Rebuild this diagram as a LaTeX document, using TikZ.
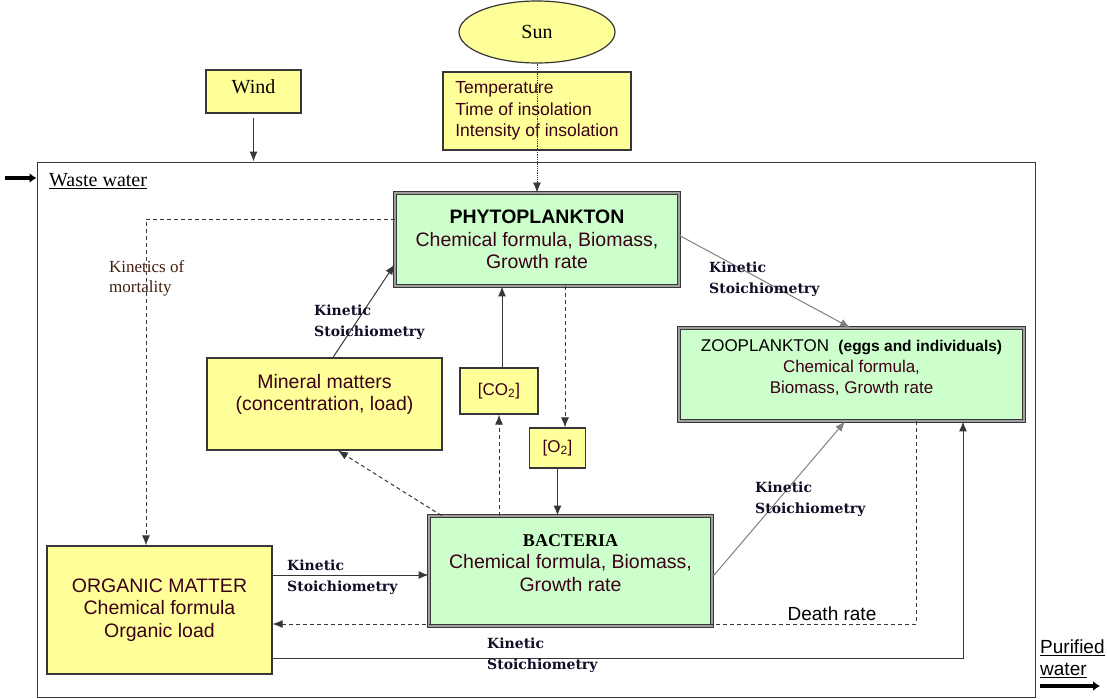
\documentclass[tikz,border=0pt]{standalone}
\usepackage{fontspec}
\setmainfont{Liberation Serif}
\setsansfont{Liberation Sans}
\newfontfamily\kinfont{DejaVu Serif}
\usepackage{tikz}
\usetikzlibrary{arrows.meta}
\usetikzlibrary{shapes.geometric}
\definecolor{yel}{RGB}{255,255,153}
\definecolor{grn}{RGB}{204,255,204}
\definecolor{edge}{RGB}{55,55,55}
\definecolor{txt}{RGB}{60,0,25}
\definecolor{kintxt}{RGB}{15,15,40}
\definecolor{morttxt}{RGB}{65,30,15}
\newcommand{\fs}[2]{\fontsize{#1}{#2}\selectfont}

\begin{document}
\begin{tikzpicture}
    [x=1pt, y=-1pt,
 yblock/.style ={rectangle, draw=edge, line width=1.2pt, fill=yel, inner sep=0pt, align=center, text=txt, font=\sffamily\fs{19.5}{22.5}},
 gblock/.style ={rectangle, draw=edge, line width=0.9pt, double=gray!75, double distance=2pt, fill=grn, inner sep=0pt, align=center, text=txt, font=\sffamily\fs{19.5}{22.5}},
 line/.style ={draw=edge, line width=1pt, -{Latex[length=10pt,width=8pt]}},
 dline/.style ={line, dash pattern=on 4pt off 3pt},
 gline/.style ={line, draw=gray},
 kin/.style ={anchor=north west, inner sep=0pt, align=left, text=kintxt, font=\kinfont\bfseries\fs{14}{21}},
 thickarrow/.style ={draw=black, line width=3.5pt, -{Latex[length=7pt,width=10pt]}}]
    \useasboundingbox (0,0) rectangle (1107,698);

    % outer frame: the pond
    \node[draw=edge, line width=1pt, minimum width=998pt, minimum height=535pt] (pond) at (536,429.5) {};

    % inputs
    \node[ellipse, draw=edge, line width=1.2pt, fill=yel, minimum width=156pt, minimum height=62pt, inner sep=0pt, font=\rmfamily\fs{20}{22}] (sun) at (537,32) {Sun};
    \node[yblock, text=black, font=\rmfamily\fs{20}{23}, minimum width=95pt, minimum height=43pt] (wind) at (253.5,91.5) {Wind\\[-14pt]\mbox{}};
    \node[yblock, align=left, minimum width=188pt, minimum height=78pt, font=\sffamily\fs{17.5}{21.5}] (climate) at (537,111) {Temperature\\Time of insolation\\Intensity of insolation};

    % compartments
    \node[gblock, minimum width=284pt, minimum height=93pt] (phyto) at (537,239.5) {\textcolor{black}{\bfseries PHYTOPLANKTON}\\Chemical formula, Biomass,\\Growth rate\\[-22pt]\mbox{}};
    \node[gblock, minimum width=345pt, minimum height=93pt, font=\sffamily\fs{17}{21}] (zoo) at (851.5,374.5) {\textcolor{black}{ZOOPLANKTON\ \ {\bfseries\fs{15.5}{21}(eggs and individuals)}}\\Chemical formula,\\Biomass, Growth rate\\[-6pt]\mbox{}};
    \node[gblock, minimum width=283pt, minimum height=110pt] (bact) at (570.5,571) {\textcolor{black}{\rmfamily\bfseries\fs{18}{22.5}BACTERIA}\\Chemical formula, Biomass,\\Growth rate\\[-6pt]\mbox{}};
    \node[yblock, minimum width=225pt, minimum height=128pt] (organic) at (159.5,610) {ORGANIC MATTER\\Chemical formula\\Organic load};
    \node[yblock, minimum width=235pt, minimum height=92pt] (mineral) at (324.5,404) {Mineral matters\\(concentration, load)\\[1pt]\mbox{}};
    \node[yblock, minimum width=78pt, minimum height=46pt, font=\sffamily\fs{17}{20}] (co2) at (499,391) {[CO\textsubscript{2}]};
    \node[yblock, minimum width=56pt, minimum height=40pt, font=\sffamily\fs{17}{20}] (o2) at (557.5,448) {[O\textsubscript{2}]};

    % water in and out
    \coordinate (wastein) at (5,178);
    \draw[thickarrow] (wastein) -- (wastein -| pond.west);
    \node[anchor=base west, inner sep=0pt, font=\rmfamily\fs{20}{22}] (wastetxt) at (49,186) {\underline{Waste water}};
    \node[anchor=north west, inner sep=0pt, align=left, font=\sffamily\fs{19}{22}] (puretxt) at (1040,640) {\underline{Purified}\\\underline{water}};
    \coordinate (pureout) at (1040,686);
    \coordinate (pureend) at (1100,686);
    \draw[thickarrow] (pureout) -- (pureend);

    % connectors
    \draw[line] ([yshift=-4pt]wind.south) -- (wind.south |- pond.north);
    \draw[line, line width=0.8pt, densely dotted] (sun.south) -- (phyto.north);
    \draw[dline] ([yshift=20.5pt]phyto.west) -| ([xshift=-13.5pt]organic.north);
    \draw[gline] ([yshift=4pt]phyto.east) -- ([xshift=-1.5pt]zoo.north);
    \draw[line] ([xshift=8.5pt]mineral.north) -- ([yshift=-25pt]phyto.west);
    \coordinate (co2out) at ([xshift=3pt]co2.north);
    \draw[line] (co2out) -- (co2out |- phyto.south);
    \coordinate (o2in) at ([xshift=7.5pt]o2.north);
    \draw[dline] (phyto.south -| o2in) -- (o2in);
    \draw[line] (o2.south) -- (o2.south |- bact.north);
    \draw[dline] (bact.north -| co2.south) -- (co2.south);
    \draw[dline] ([xshift=13pt]bact.north west) -- ([xshift=13.5pt]mineral.south);
    \coordinate (orgout) at ([yshift=35pt]organic.east);
    \draw[line] (orgout) -- (orgout -| bact.west);
    \draw[gline] ([yshift=-6pt]bact.east) -- ([xshift=-6.5pt]zoo.south);
    \draw[dline] ([xshift=64.5pt]zoo.south) |- ([yshift=-14pt]organic.east);
    \draw[line] ([yshift=-48pt]organic.east) -| ([xshift=111.5pt]zoo.south);

    % labels
    \node[anchor=north west, inner sep=0pt, align=left, text=morttxt, font=\rmfamily\fs{17}{20}] (mortality) at (109,260.5) {Kinetics of\\mortality};
    \node[kin] (kinphyzoo) at (709,261.5) {Kinetic\\Stoichiometry};
    \node[kin] (kinminphy) at (314,304.5) {Kinetic\\Stoichiometry};
    \node[kin] (kinorgbact) at (287,559.5) {Kinetic\\Stoichiometry};
    \node[kin] (kinbactzoo) at (755,481.5) {Kinetic\\Stoichiometry};
    \node[kin] (kinorgzoo) at (487,637.5) {Kinetic\\Stoichiometry};
    \node[anchor=base, inner sep=0pt, text=black, font=\sffamily\fs{19}{22}] (death) at (832,620) {Death rate};
\end{tikzpicture}
\end{document}
